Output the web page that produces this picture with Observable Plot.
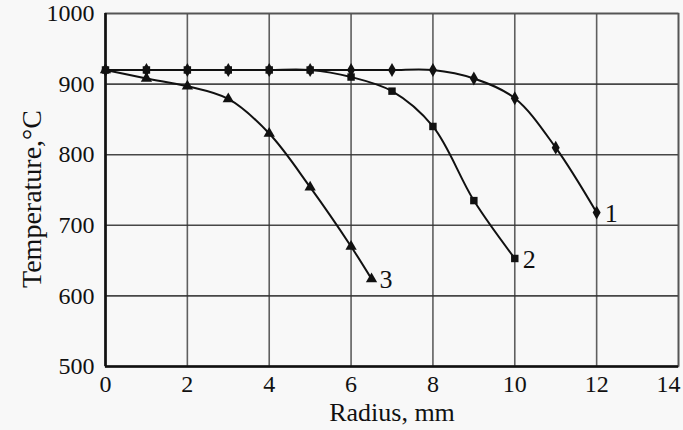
<!DOCTYPE html>
<html>
<head>
<meta charset="utf-8">
<script src="https://cdn.jsdelivr.net/npm/d3@7"></script>
<script src="https://cdn.jsdelivr.net/npm/@observablehq/plot@0.6"></script>
<style>
  html, body { margin: 0; padding: 0; background: #ffffff; }
  #chart { width: 683px; height: 430px; }
</style>
</head>
<body>
<div id="chart"></div>
<script>
// Curve 1 (diamonds)
const radius1 = [0, 1, 2, 3, 4, 5, 6, 7, 8, 9, 10, 11, 12];
const temp1   = [920, 920, 920, 920, 920, 920, 920, 920, 920, 908, 880, 810, 718];
// Curve 2 (squares)
const radius2 = [0, 1, 2, 3, 4, 5, 6, 7, 8, 9, 10];
const temp2   = [920, 920, 920, 920, 920, 920, 910, 890, 840, 735, 653];
// Curve 3 (triangles)
const radius3 = [0, 1, 2, 3, 4, 5, 6, 6.5];
const temp3   = [920, 908, 897, 879, 830, 754, 670, 624];

const seriesNames = ["1", "2", "3"];
const symbols = ["diamond", "square", "triangle"];
const xTicks = [0, 2, 4, 6, 8, 10, 12, 14];
const yTicks = [500, 600, 700, 800, 900, 1000];
const xLabel = "Radius, mm";
const yLabel = "Temperature,°C";

const series = [
  {name: seriesNames[0], symbol: symbols[0], data: radius1.map((x, i) => ({x, y: temp1[i]}))},
  {name: seriesNames[1], symbol: symbols[1], data: radius2.map((x, i) => ({x, y: temp2[i]}))},
  {name: seriesNames[2], symbol: symbols[2], data: radius3.map((x, i) => ({x, y: temp3[i]}))}
];

const xInner = xTicks.slice(0, -1);
const xLast = xTicks.slice(-1);

const marks = [
  Plot.gridX(xTicks, {stroke: "#444", strokeOpacity: 0.85, strokeWidth: 1.6}),
  Plot.gridY(yTicks, {stroke: "#333", strokeOpacity: 0.9, strokeWidth: 1.6}),
  Plot.frame({stroke: "#555", strokeWidth: 1.6}),
  Plot.ruleX([0], {stroke: "#111", strokeWidth: 2.6}),
  Plot.ruleY([500], {stroke: "#111", strokeWidth: 2.6}),
  Plot.axisX(xInner, {tickSize: 0, tickPadding: 8, fontSize: 24, label: null, tickFormat: d => String(d)}),
  Plot.axisX(xLast, {tickSize: 0, tickPadding: 8, fontSize: 24, label: null, tickFormat: d => String(d), textAnchor: "end", dx: 2}),
  Plot.axisY(yTicks, {tickSize: 0, tickPadding: 11, fontSize: 24, label: null, tickFormat: d => String(d)}),
  Plot.text([xLabel], {frameAnchor: "bottom", textAnchor: "middle", lineAnchor: "middle", dy: 46, fontSize: 26, fill: "#111"}),
  Plot.text([yLabel], {frameAnchor: "left", textAnchor: "middle", lineAnchor: "middle", dx: -73, dy: 9, rotate: -90, fontSize: 28, fill: "#111"})
];

for (const s of series) {
  marks.push(Plot.line(s.data, {x: "x", y: "y", curve: "catmull-rom", stroke: "#111", strokeWidth: 2}));
  marks.push(Plot.dot(s.data, {x: "x", y: "y", symbol: () => s.symbol, fill: "#111", stroke: "none", r: 4.2}));
  const last = s.data[s.data.length - 1];
  marks.push(Plot.text([last], {x: "x", y: "y", text: () => s.name, textAnchor: "start", dx: 8, dy: 1, fontSize: 26, fill: "#111"}));
}

const chart = Plot.plot({
  width: 683,
  height: 430,
  marginLeft: 105,
  marginRight: 5,
  marginTop: 13,
  marginBottom: 64,
  x: {domain: [0, 14]},
  y: {domain: [500, 1000]},
  style: {background: "#f8f8f8", fontFamily: "'Liberation Serif', serif", color: "#111", overflow: "visible"},
  marks
});
document.getElementById("chart").appendChild(chart);
</script>
</body>
</html>
